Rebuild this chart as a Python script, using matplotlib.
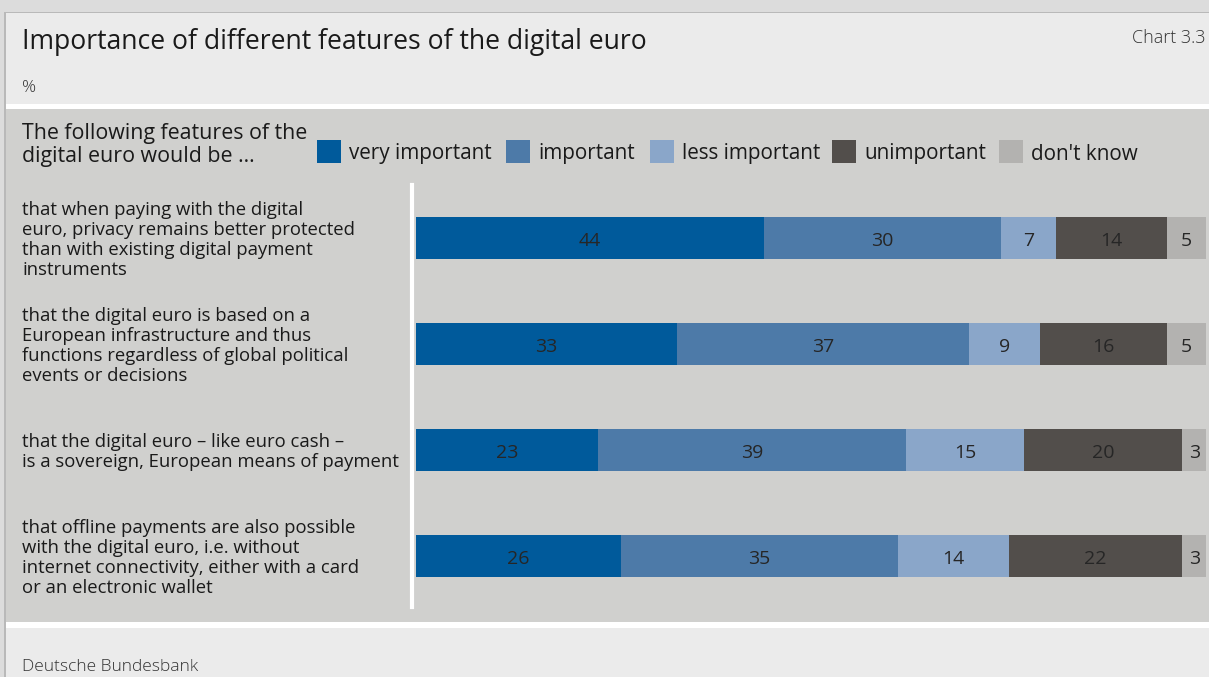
import matplotlib.pyplot as plt
from matplotlib.patches import Rectangle
import numpy as np

plt.rcParams['font.family'] = ['Open Sans', 'DejaVu Sans']

features = [
    "that when paying with the digital\neuro, privacy remains better protected\nthan with existing digital payment\ninstruments",
    "that the digital euro is based on a\nEuropean infrastructure and thus\nfunctions regardless of global political\nevents or decisions",
    "that the digital euro \u2013 like euro cash \u2013\nis a sovereign, European means of payment",
    "that offline payments are also possible\nwith the digital euro, i.e. without\ninternet connectivity, either with a card\nor an electronic wallet",
]
answers = ["very important", "important", "less important", "unimportant", "don't know"]
very_important = [44, 33, 23, 26]
important = [30, 37, 39, 35]
less_important = [7, 9, 15, 14]
unimportant = [14, 16, 20, 22]
dont_know = [5, 5, 3, 3]
colors = ["#005a9b", "#4d7aa8", "#8aa6c9", "#524e4b", "#b3b2b0"]

W, H = 1209, 677
fig = plt.figure(figsize=(W / 100, H / 100), dpi=100)
fig.patch.set_facecolor("#dcdcdc")

def px(x, y):
    # pixel coords (origin top-left) -> figure fraction
    return x / W, 1 - y / H

def box(x0, y0, x1, y1, color, z=-2):
    fig.patches.append(Rectangle((x0 / W, 1 - y1 / H), (x1 - x0) / W, (y1 - y0) / H,
                                 transform=fig.transFigure, facecolor=color,
                                 edgecolor="none", zorder=z))

# panel backgrounds
box(4, 12, W, H, "#b9b9b9")
box(6, 13, W, 104, "#ebebeb")
box(6, 104, W, 109, "#ffffff")
box(6, 109, W, 622, "#d0d0ce")
box(6, 622, W, 628, "#ffffff")
box(6, 628, W, H, "#ebebeb")

fig.text(*px(22, 42), "Importance of different features of the digital euro",
         fontsize=19.1, color="#1a1a1a", va="center", ha="left")
fig.text(*px(1205, 38), "Chart 3.3", fontsize=12.9, color="#333333",
         va="center", ha="right", fontweight="light")
fig.text(*px(22, 88), "%", fontsize=12.5, color="#333333", va="center",
         fontweight="light")
fig.text(*px(22, 667), "Deutsche Bundesbank", fontsize=12.5, color="#333333",
         va="center", fontweight="light")
fig.text(*px(22, 145), "The following features of the\ndigital euro would be \u2026",
         fontsize=15.4, color="#1a1a1a", va="center", linespacing=1.16)

# legend
leg_x = [317, 506, 650, 832, 999]
for lx, name, c in zip(leg_x, answers, colors):
    box(lx, 140, lx + 24, 163, c, z=1)
    fig.text(*px(lx + 32, 154), name, fontsize=14.9, color="#1a1a1a", va="center")

ax = fig.add_axes([416 / W, 1 - 607 / H, 790 / W, 422 / H])
ax.set_facecolor("none")
y = np.arange(len(features))
series = [very_important, important, less_important, unimportant, dont_know]
left = np.zeros(len(features))
for vals, c in zip(series, colors):
    vals = np.array(vals)
    ax.barh(y, vals, left=left, height=0.4, color=c, edgecolor="none")
    for yi, (l, v) in enumerate(zip(left, vals)):
        ax.annotate(str(v), (l + v / 2, yi), xytext=(0, -2), textcoords="offset points",
                    ha="center", va="center", fontsize=14, color="#262626")
    left += vals

ax.set_xlim(0, 100)
ax.set_ylim(3.48, -0.5)
ax.set_xticks([])
ax.set_yticks([])
for s in ["top", "right", "bottom"]:
    ax.spines[s].set_visible(False)
ax.spines["left"].set_color("white")
ax.spines["left"].set_linewidth(3)
ax.spines["left"].set_position(("outward", 3))

label_y = [240, 346, 452, 558]
for ly, lab in zip(label_y, features):
    fig.text(*px(22, ly), lab, fontsize=13.3, color="#1a1a1a", va="center",
             linespacing=1.13)

fig.savefig("out.png", dpi=100, facecolor=fig.get_facecolor())
